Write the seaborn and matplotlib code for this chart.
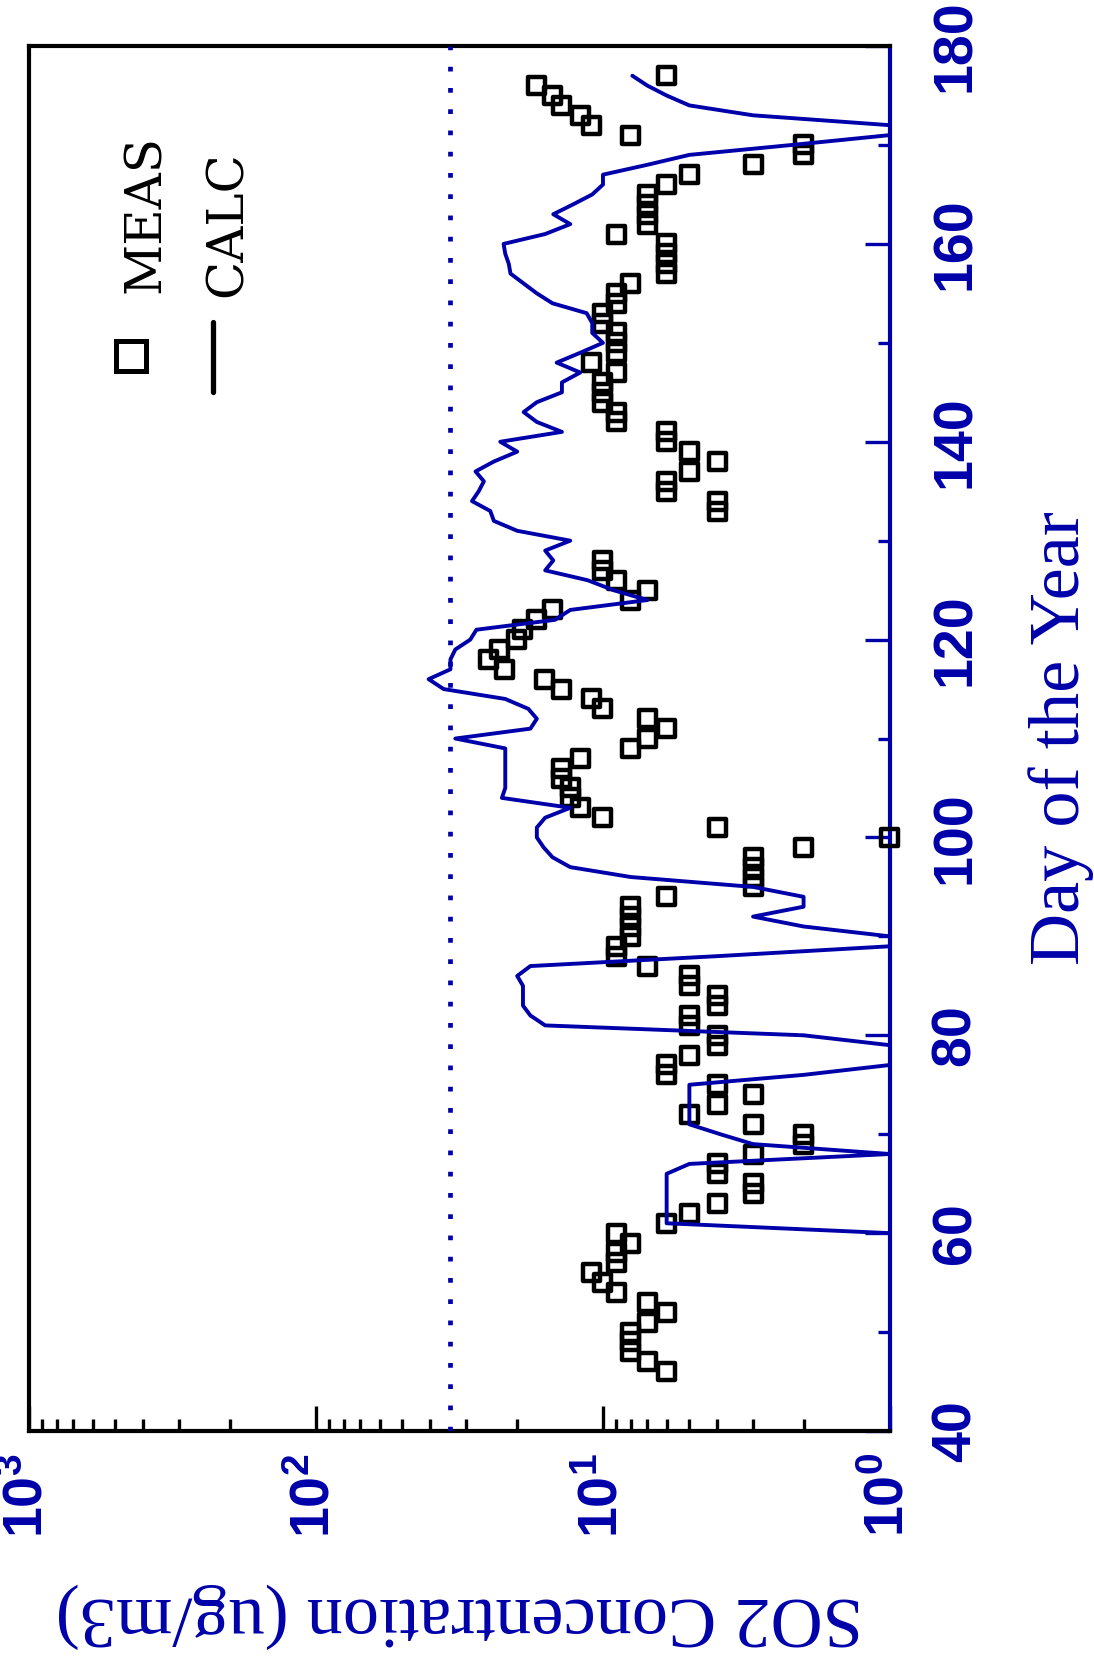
import numpy as np
import pandas as pd
import seaborn as sns
import matplotlib.pyplot as plt
from matplotlib import font_manager
from matplotlib.lines import Line2D
from matplotlib.ticker import LogLocator, NullFormatter, MultipleLocator

# measured SO2 (ug/m3), one reading per day
meas_day = [46, 47, 48, 49, 50, 51, 52, 53, 54, 55, 56, 57, 58, 59, 60, 61, 62, 63, 64, 65,
            66, 67, 68, 69, 70, 71, 72, 73, 74, 75, 76, 77, 78, 79, 80, 81, 82, 83, 84, 85,
            86, 87, 88, 89, 90, 91, 92, 93, 94, 95, 96, 97, 98, 99, 100, 101, 102, 103, 104, 105,
            106, 107, 108, 109, 110, 111, 112, 113, 114, 115, 116, 117, 118, 119, 120, 121, 122, 123, 124, 125,
            126, 127, 128, 133, 134, 135, 136, 137, 138, 139, 140, 141, 142, 143, 144, 145, 146, 147, 148, 149,
            150, 151, 152, 153, 154, 155, 156, 157, 158, 159, 160, 161, 162, 163, 164, 165, 166, 167, 168, 169,
            170, 171, 172, 173, 174, 175, 176, 177]
meas_conc = [6, 7, 8, 8, 8, 7, 6, 7, 9, 10, 11, 9, 9, 8, 9, 6, 5, 4, 3, 3,
             4, 4, 3, 2, 2, 3, 5, 4, 3, 4, 6, 6, 5, 4, 4, 5, 5, 4, 4, 5,
             5, 7, 9, 9, 8, 8, 8, 8, 6, 3, 3, 3, 3, 2, 1, 4, 10, 12, 13, 13,
             14, 14, 12, 8, 7, 6, 7, 10, 11, 14, 16, 22, 25, 23, 20, 19, 17, 15, 8, 7,
             9, 10, 10, 4, 4, 6, 6, 5, 4, 5, 6, 6, 9, 9, 10, 10, 10, 9, 11, 9,
             9, 9, 10, 10, 9, 9, 8, 6, 6, 6, 6, 9, 7, 7, 7, 7, 6, 5, 3, 2,
             2, 8, 11, 12, 14, 15, 17, 6]

# calculated SO2 (ug/m3), days 60..177
calc_day = list(range(60, 178))
calc_conc = [1.0, 6, 6, 6, 6, 6, 6, 5, 1, 3,
             3.9, 5, 5, 5, 5, 5, 2, 1, 1, 1,
             2, 15.9, 17.9, 19, 19, 19, 19.9, 17.9, 4, 1,
             1, 2, 3, 2, 2, 3, 8, 13, 15, 16.1,
             17, 17, 15.9, 13, 22.5, 21.9, 21.9, 21.9, 21.9, 21.9,
             32.7, 17.9, 17, 18.2, 21.9, 35.9, 40.5, 34, 34, 32.7,
             29, 27.6, 14.7, 13, 7, 9.2, 11.3, 15.9, 14.9, 15.9,
             13, 19.9, 24, 24.7, 28.6, 27.1, 26, 27.8, 24, 19.9,
             22.8, 13.9, 17, 18.9, 17, 13.9, 13.9, 12, 14.5, 12,
             10, 10.9, 10.9, 11.4, 15, 17, 18.9, 21, 21.3, 21.9,
             22.2, 15.9, 13, 14.9, 12.7, 10.9, 10, 10, 7, 5,
             2.2, 1, 1, 3, 5, 6, 7, 7.9]

limit = 34
day_ticks = [40, 60, 80, 100, 120, 140, 160, 180]
conc_ticks = [1, 10, 100, 1000]
conc_labels = [r'$\mathbf{10^{0}}$', r'$\mathbf{10^{1}}$', r'$\mathbf{10^{2}}$', r'$\mathbf{10^{3}}$']

BLUE = '#0000AA'

meas = pd.DataFrame({'day': meas_day, 'conc': meas_conc})
calc = pd.DataFrame({'day': calc_day, 'conc': calc_conc})

sns.set_style("white")
plt.rcParams['font.family'] = ['Liberation Serif', 'DejaVu Serif']
names = {f.name for f in font_manager.fontManager.ttflist}
num_font = 'Liberation Sans Narrow' if 'Liberation Sans Narrow' in names else 'Liberation Sans'
plt.rcParams['mathtext.fontset'] = 'custom'
plt.rcParams['mathtext.rm'] = num_font + ':bold'
plt.rcParams['mathtext.bf'] = num_font + ':bold'
plt.rcParams['mathtext.it'] = num_font + ':bold'

fig = plt.figure(figsize=(10.94, 16.69), dpi=100)
ax = fig.add_axes([0.0265, 0.1426, 0.7870, 0.8298])
ax.set_xscale('log')

sns.scatterplot(data=meas, x='conc', y='day', marker='s', s=150, facecolor='none',
                edgecolor='black', linewidth=3.2, clip_on=False, zorder=4, ax=ax)
sns.lineplot(data=calc, x='conc', y='day', orient='y', estimator=None, sort=False,
             color=BLUE, linewidth=2.8, zorder=5, ax=ax)
ax.axvline(limit, color=BLUE, linestyle=(0, (1, 3.5)), linewidth=3.4, zorder=3)

ax.set_xlim(1000, 1)
ax.set_ylim(40, 180)

for side in ['top', 'left', 'bottom']:
    ax.spines[side].set_color('black')
    ax.spines[side].set_linewidth(3.0)
ax.spines['right'].set_color(BLUE)
ax.spines['right'].set_linewidth(3.0)

# day axis (right side)
ax.yaxis.tick_right()
ax.set_yticks(day_ticks)
ax.yaxis.set_minor_locator(MultipleLocator(10))
ax.tick_params(axis='y', which='both', direction='in', color=BLUE, width=2.4,
               left=False, right=True, labelleft=False, labelright=True)
ax.tick_params(axis='y', which='major', length=18, pad=29)
ax.tick_params(axis='y', which='minor', length=8.6)
ax.set_yticklabels([str(d) for d in day_ticks], rotation=90, rotation_mode='anchor',
                   ha='center', va='top', color=BLUE, fontsize=40,
                   fontfamily=num_font, fontweight='bold')

# concentration axis (bottom)
ax.set_xticks(conc_ticks)
ax.xaxis.set_minor_locator(LogLocator(base=10, subs=np.arange(2, 10), numticks=20))
ax.xaxis.set_minor_formatter(NullFormatter())
ax.tick_params(axis='x', which='both', direction='in', color='black', width=2.4,
               bottom=True, top=False)
ax.tick_params(axis='x', which='major', length=18, pad=16)
ax.tick_params(axis='x', which='minor', length=8.6)
ax.set_xticklabels(conc_labels, rotation=90, rotation_mode='anchor',
                   ha='right', va='center', color=BLUE, fontsize=40)

ax.set_xlabel('SO2 Concentration (ug/m3)', rotation=180, color=BLUE, fontsize=52)
ax.xaxis.set_label_coords(0.5, -0.1097)
ax.yaxis.set_label_position('right')
ax.set_ylabel('Day of the Year', rotation=90, color=BLUE, fontsize=52)
ax.yaxis.set_label_coords(1.160, 0.5)

# legend, drawn rotated like the rest of the page
W, H = 1094, 1669
fig.add_artist(Line2D([130.5 / W], [1 - 356 / H], marker='s', markersize=22, mfc='none',
                      mec='black', mew=3.6, transform=fig.transFigure))
fig.add_artist(Line2D([213 / W, 213 / W], [1 - 322 / H, 1 - 392 / H], color='black',
                      lw=3.8, transform=fig.transFigure))
fig.text(160 / W, 1 - 293 / H, 'MEAS', rotation=90, rotation_mode='anchor', ha='left',
         va='baseline', fontfamily='DejaVu Serif', fontsize=36, color='black')
fig.text(242 / W, 1 - 297 / H, 'CALC', rotation=90, rotation_mode='anchor', ha='left',
         va='baseline', fontfamily='DejaVu Serif', fontsize=36, color='black')

plt.savefig('out.png', dpi=100)
